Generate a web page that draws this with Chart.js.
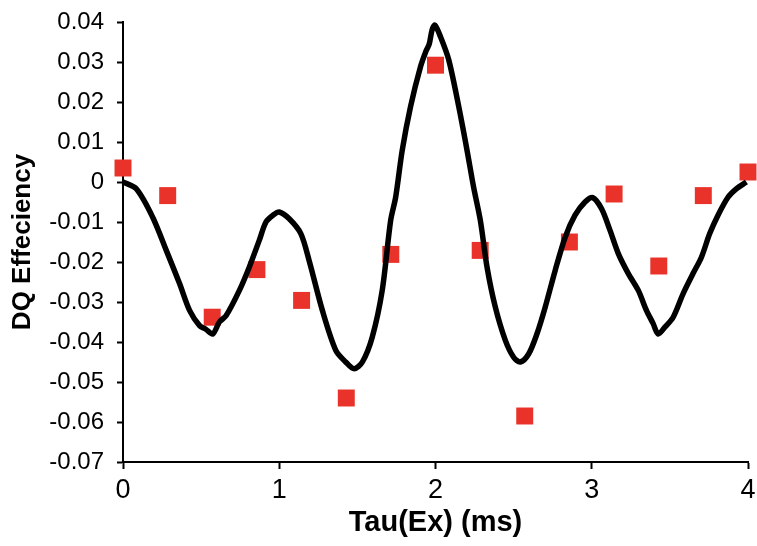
<!DOCTYPE html>
<html>
<head>
<meta charset="utf-8">
<script src="https://cdn.jsdelivr.net/npm/chart.js@4/dist/chart.umd.min.js"></script>
<style>
  html, body { margin: 0; padding: 0; background: #fff; }
  canvas { display: block; }
</style>
</head>
<body>
<canvas id="grafico" width="757" height="546"></canvas>
<script>
// simulated curve (black line)
const curvaX = [0, 0.085, 0.19, 0.277, 0.362, 0.426, 0.49, 0.53, 0.574, 0.617, 0.66, 0.745, 0.808, 0.872, 0.915, 0.96, 1.0, 1.064, 1.138, 1.191, 1.276, 1.362, 1.425, 1.479, 1.532, 1.595, 1.659, 1.713, 1.745, 1.787, 1.84, 1.904, 1.94, 1.96, 1.978, 1.996, 2.032, 2.085, 2.149, 2.202, 2.244, 2.287, 2.33, 2.383, 2.447, 2.5, 2.543, 2.596, 2.649, 2.702, 2.766, 2.83, 2.893, 2.957, 3.006, 3.063, 3.117, 3.17, 3.234, 3.298, 3.35, 3.393, 3.425, 3.468, 3.521, 3.585, 3.648, 3.702, 3.755, 3.808, 3.872, 3.925, 3.99];
const curvaY = [0, -0.0017, -0.0088, -0.0171, -0.0254, -0.0321, -0.0359, -0.0368, -0.038, -0.035, -0.0334, -0.0271, -0.0213, -0.0146, -0.01, -0.0083, -0.0075, -0.0092, -0.0129, -0.0196, -0.0321, -0.0421, -0.045, -0.0467, -0.045, -0.0388, -0.0271, -0.0096, -0.0038, 0.0079, 0.0188, 0.0288, 0.0328, 0.0345, 0.038, 0.0392, 0.0363, 0.0305, 0.0188, 0.0079, -0.0013, -0.0096, -0.0213, -0.0313, -0.0396, -0.0438, -0.045, -0.043, -0.038, -0.0313, -0.0221, -0.0138, -0.0083, -0.005, -0.0039, -0.0067, -0.0121, -0.0179, -0.0229, -0.0271, -0.0321, -0.0354, -0.038, -0.0363, -0.0338, -0.0279, -0.0229, -0.0188, -0.0129, -0.0083, -0.0038, -0.0017, 0];

// measured points (red squares)
const puntosX = [0, 0.286, 0.571, 0.857, 1.143, 1.429, 1.714, 2.0, 2.286, 2.571, 2.857, 3.143, 3.429, 3.714, 4.0];
const puntosY = [0.0035, -0.0034, -0.0338, -0.0219, -0.0296, -0.054, -0.0181, 0.0292, -0.0171, -0.0585, -0.015, -0.003, -0.021, -0.0034, 0.0025];

const ticksX = [0, 1, 2, 3, 4];
const ticksY = [-0.07, -0.06, -0.05, -0.04, -0.03, -0.02, -0.01, 0, 0.01, 0.02, 0.03, 0.04];
const etiquetasY = ['-0.07', '-0.06', '-0.05', '-0.04', '-0.03', '-0.02', '-0.01', '0', '0.01', '0.02', '0.03', '0.04'];

const fuente = "'Liberation Sans', Arial, sans-serif";

const ctx = document.getElementById('grafico').getContext('2d');
new Chart(ctx, {
  type: 'scatter',
  data: {
    datasets: [
      {
        label: 'curva',
        data: curvaX.map((x, i) => ({ x: x, y: curvaY[i] })),
        showLine: true,
        borderColor: '#000',
        borderWidth: 5.5,
        pointRadius: 0,
        tension: 0.3,
        fill: false,
        order: 0,
        clip: false
      },
      {
        label: 'puntos',
        data: puntosX.map((x, i) => ({ x: x, y: puntosY[i] })),
        pointStyle: 'rect',
        pointRadius: 12,
        pointHoverRadius: 12,
        backgroundColor: '#e9332a',
        borderWidth: 0,
        order: 1,
        clip: false
      }
    ]
  },
  options: {
    responsive: false,
    animation: false,
    layout: { autoPadding: false, padding: { top: 22, right: 9, left: 1, bottom: 0 } },
    plugins: {
      legend: { display: false },
      tooltip: { enabled: false }
    },
    scales: {
      x: {
        type: 'linear',
        min: 0,
        max: 4,
        afterBuildTicks: s => { s.ticks = ticksX.map(v => ({ value: v })); },
        afterFit: s => {
          s.height = 84;
          s.paddingLeft = 0;
          s.paddingRight = 0;
        },
        grid: { display: true, drawOnChartArea: false, drawTicks: true, tickLength: 7, color: '#000', tickWidth: 2 },
        border: { display: true, color: '#000', width: 2 },
        ticks: { color: '#000', padding: 5, font: { family: fuente, size: 27 }, maxRotation: 0 },
        title: {
          display: true,
          text: 'Tau(Ex) (ms)',
          color: '#000',
          font: { family: fuente, size: 29, weight: 'bold' },
          padding: { top: 0, bottom: 6 }
        }
      },
      y: {
        type: 'linear',
        min: -0.07,
        max: 0.04,
        afterBuildTicks: s => { s.ticks = ticksY.map(v => ({ value: v })); },
        afterFit: s => {
          s.width = 122;
          s.paddingTop = 0;
          s.paddingBottom = 0;
        },
        grid: { display: true, drawOnChartArea: false, drawTicks: true, tickLength: 6, color: '#000', tickWidth: 2 },
        border: { display: true, color: '#000', width: 2 },
        ticks: {
          color: '#000',
          padding: 13,
          font: { family: fuente, size: 24 },
          callback: (v, i) => etiquetasY[i]
        },
        title: {
          display: true,
          text: 'DQ Effeciency',
          color: '#000',
          font: { family: fuente, size: 26, weight: 'bold' },
          padding: { top: 6, bottom: 0 }
        }
      }
    }
  }
});
</script>
</body>
</html>
